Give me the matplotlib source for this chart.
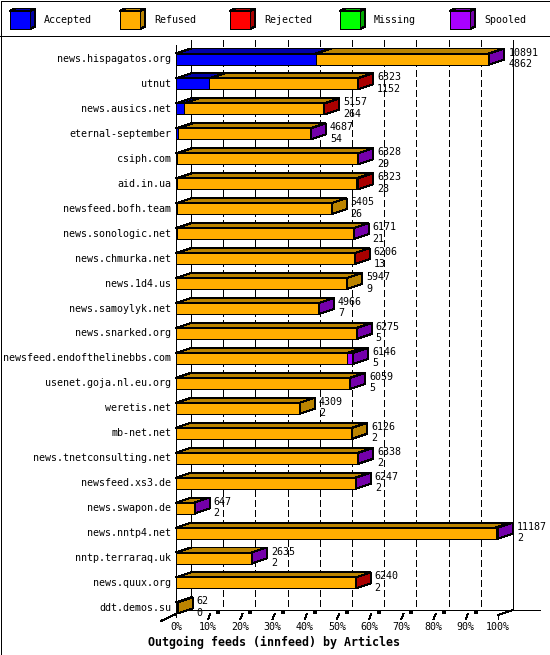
import matplotlib
matplotlib.use('Agg')
import matplotlib.pyplot as plt
from matplotlib.patches import Polygon, Rectangle

hosts = ['news.hispagatos.org', 'utnut', 'news.ausics.net', 'eternal-september',
         'csiph.com', 'aid.in.ua', 'newsfeed.bofh.team', 'news.sonologic.net',
         'news.chmurka.net', 'news.1d4.us', 'news.samoylyk.net', 'news.snarked.org',
         'newsfeed.endofthelinebbs.com', 'usenet.goja.nl.eu.org', 'weretis.net',
         'mb-net.net', 'news.tnetconsulting.net', 'newsfeed.xs3.de', 'news.swapon.de',
         'news.nntp4.net', 'nntp.terraraq.uk', 'news.quux.org', 'ddt.demos.su']
offered = [10891, 6323, 5157, 4687, 6328, 6323, 5405, 6171, 6206, 5947, 4966, 6275,
           6146, 6059, 4309, 6126, 6338, 6247, 647, 11187, 2635, 6240, 62]
accepted = [4862, 1152, 264, 54, 29, 28, 26, 21, 13, 9, 7, 5, 5, 5, 2, 2, 2, 2, 2, 2, 2, 2, 0]
refused = [5989, 5126, 4883, 4608, 6287, 6225, 5379, 6142, 6185, 5938, 4953, 6260,
           5951, 6039, 4307, 6124, 6328, 6235, 642, 11105, 2629, 6232, 62]
rejected = [0, 45, 10, 0, 0, 70, 0, 0, 8, 0, 0, 0, 0, 0, 0, 0, 0, 0, 0, 0, 0, 6, 0]
missing = [0] * 23
spooled = [40, 0, 0, 25, 12, 0, 0, 8, 0, 0, 6, 10, 190, 15, 0, 0, 8, 10, 3, 80, 4, 0, 0]

series_names = ['Accepted', 'Refused', 'Rejected', 'Missing', 'Spooled']
front_colors = ['#0000ff', '#ffae00', '#ff0000', '#00ff00', '#a800ff']
dark_colors = ['#0000a8', '#bb8400', '#aa0000', '#00aa00', '#7400aa']

W, H = 550, 655
mono = 'DejaVu Sans Mono'
LW = 0.72

fig = plt.figure(figsize=(W / 100, H / 100), dpi=100)

# background / frame in pixel coords
bg = fig.add_axes([0, 0, 1, 1])
bg.set_xlim(0, W)
bg.set_ylim(H, 0)
bg.axis('off')
bg.add_patch(Rectangle((0.5, 0.5), W - 1, H - 1, fill=False, ec='black', lw=LW, antialiased=False))
bg.plot([0, W], [36, 36], color='black', lw=LW, antialiased=False)

# legend with little 3d boxes
for k, name in enumerate(series_names):
    x0 = 10 + 110 * k
    bg.add_patch(Polygon([(x0, 11), (x0 + 20, 11), (x0 + 25, 8.5), (x0 + 5, 8.5)],
                         fc=dark_colors[k], ec='black', lw=LW, antialiased=False))
    bg.add_patch(Polygon([(x0 + 20, 11), (x0 + 20, 29), (x0 + 25, 26.5), (x0 + 25, 8.5)],
                         fc=dark_colors[k], ec='black', lw=LW, antialiased=False))
    bg.add_patch(Rectangle((x0, 11), 20, 18, fc=front_colors[k], ec='black', lw=LW, antialiased=False))
    bg.text(x0 + 34, 20, name, fontsize=7.2, family=mono, va='center', ha='left')

# main axes = front plane of the 3d chart
ROW0, PITCH = 59, 24.95
TOP, FRONT = 45, 615
ax = fig.add_axes([176 / W, 1 - FRONT / H, 322 / W, (FRONT - TOP) / H])
ax.set_xlim(0, 100)
ybot = (FRONT - ROW0) / PITCH
ytop = (TOP - ROW0) / PITCH
ax.set_ylim(ybot, ytop)
ax.axis('off')

px_x = 322 / 100
DX = 15 / px_x
DY = 5 / PITCH
HH = 5.5 / PITCH
yfloor = ybot - DY

# back wall
for p in range(10, 100, 10):
    ax.plot([p + DX, p + DX], [ytop - DY, yfloor], color='black', lw=LW,
            ls=(0, (6, 4)), clip_on=False, zorder=1, antialiased=False)
for p in [0, 100]:
    ax.plot([p + DX, p + DX], [ytop - DY, yfloor], color='black', lw=LW,
            clip_on=False, zorder=1, antialiased=False)
ax.plot([0, 0], [ytop, ybot + 2 / PITCH], color='black', lw=LW, clip_on=False, zorder=1, antialiased=False)
ax.plot([0, 100 + DX + 27 / px_x], [yfloor, yfloor], color='black', lw=LW,
        clip_on=False, zorder=1, antialiased=False)
ax.plot([-DX, 0], [ybot + 6 / PITCH, ybot - 1 / PITCH], color='black', lw=LW, clip_on=False, antialiased=False)
ax.plot([100, 100 + DX], [ybot, yfloor], color='black', lw=LW, clip_on=False, antialiased=False)
ax.plot([100, 100], [ybot, ybot + 4 / PITCH], color='black', lw=LW, clip_on=False, antialiased=False)

# little 3d ticks on the floor
for p in range(10, 100, 10):
    ax.plot([p, p + 2 / px_x], [ybot + 4 / PITCH, ybot - 1 / PITCH], color='black', lw=LW,
            clip_on=False, antialiased=False)
    ax.add_patch(Rectangle((p + 8 / px_x, yfloor), 3 / px_x, 2.5 / PITCH,
                           fc='black', ec='black', lw=0.5, clip_on=False, antialiased=False))

for p in range(0, 101, 10):
    ax.text(p, (627 - ROW0) / PITCH, f'{p}%', fontsize=7.2, family=mono,
            ha='center', va='center', clip_on=False)

# bars
vmax = max(offered)
for i, host in enumerate(hosts):
    vals = [accepted[i], refused[i], rejected[i], missing[i], spooled[i]]
    left = 0
    last = 0
    for k, v in enumerate(vals):
        if v <= 0:
            continue
        w = v / vmax * 100
        a, b = left, left + w
        ax.add_patch(Polygon([(a, i - HH), (b, i - HH), (b + DX, i - HH - DY), (a + DX, i - HH - DY)],
                             fc=dark_colors[k], ec='black', lw=LW, clip_on=False, zorder=3,
                             joinstyle='miter', antialiased=False))
        ax.add_patch(Rectangle((a, i - HH), w, 2 * HH, fc=front_colors[k], ec='black', lw=LW,
                               clip_on=False, zorder=4, joinstyle='miter', antialiased=False))
        left = b
        last = k
    ax.add_patch(Polygon([(left, i - HH), (left, i + HH), (left + DX, i + HH - DY), (left + DX, i - HH - DY)],
                         fc=dark_colors[last], ec='black', lw=LW, clip_on=False, zorder=4,
                         joinstyle='miter', antialiased=False))
    ax.text(-5 / px_x, i, host, fontsize=7.2, family=mono, ha='right', va='center', clip_on=False)
    xl = left + DX + 4 / px_x
    ax.text(xl, i - 0.26, str(offered[i]), fontsize=7.2, family=mono, ha='left', va='center',
            clip_on=False, zorder=5)
    ax.text(xl, i + 0.2, str(accepted[i]), fontsize=7.2, family=mono, ha='left', va='center',
            clip_on=False, zorder=5)

fig.text(274 / W, 1 - 642 / H, 'Outgoing feeds (innfeed) by Articles', fontsize=8.4,
         family=mono, weight='bold', ha='center', va='center')

fig.savefig('out.png', dpi=100)
